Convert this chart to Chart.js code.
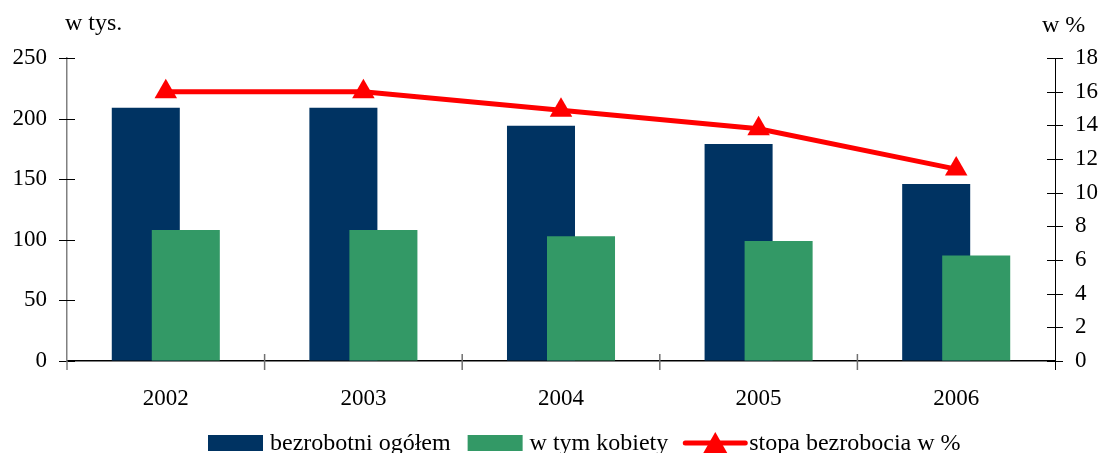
<!DOCTYPE html>
<html><head><meta charset="utf-8">
<script src="https://cdn.jsdelivr.net/npm/chart.js@4"></script>
<style>html,body{margin:0;padding:0;background:#fff}</style>
</head><body>
<canvas id="c" width="1103" height="453"></canvas>
<script>
const categories = ['2002', '2003', '2004', '2005', '2006'];
const totalUnemployed = [209, 209, 194, 179, 146];
const womenUnemployed = [108, 108, 103, 99, 87];
const unemploymentRate = [16.0, 16.0, 14.9, 13.8, 11.4];
const seriesLabels = ['bezrobotni ogółem', 'w tym kobiety', 'stopa bezrobocia w %'];
const leftTitle = 'w tys.';
const rightTitle = 'w %';

const NAVY = '#003362', GREEN = '#339966', RED = '#FF0000';
const FONT = "'Liberation Serif', 'Times New Roman', serif";
Chart.defaults.font.family = FONT;
Chart.defaults.color = '#000';

const drawOrderPlugin = {
  id: 'drawOrder',
  beforeDatasetDraw(chart, args) {
    // navy (index 0) must sit left of green but be painted beneath it
    if (args.index === 0) return false;
    if (args.index === 1) {
      const m = chart.getDatasetMeta(0);
      if (m.visible) m.controller.draw();
    }
  }
};

const decorPlugin = {
  id: 'decor',
  afterDraw(chart) {
    const ctx = chart.ctx;
    const {x, y, y1} = chart.scales;
    ctx.save();
    ctx.strokeStyle = '#000'; ctx.lineWidth = 1;
    y.ticks.forEach((t, i) => {
      const py = Math.round(y.getPixelForTick(i)) + 0.5;
      ctx.beginPath(); ctx.moveTo(y.right - 8, py); ctx.lineTo(y.right + 8, py); ctx.stroke();
    });
    y1.ticks.forEach((t, i) => {
      const py = Math.round(y1.getPixelForTick(i)) + 0.5;
      ctx.beginPath(); ctx.moveTo(y1.left - 8, py); ctx.lineTo(y1.left + 8, py); ctx.stroke();
    });
    // axis lines extending slightly below the x axis
    ctx.strokeStyle = '#808080'; ctx.lineWidth = 1.5;
    ctx.beginPath(); ctx.moveTo(y.right, x.top); ctx.lineTo(y.right, x.top + 9); ctx.stroke();
    ctx.strokeStyle = '#000'; ctx.lineWidth = 1;
    ctx.beginPath(); ctx.moveTo(y1.left + 0.5, x.top); ctx.lineTo(y1.left + 0.5, x.top + 9); ctx.stroke();
    // x boundary ticks
    ctx.strokeStyle = '#707070'; ctx.lineWidth = 1.5;
    for (let i = 1; i < categories.length; i++) {
      const px = (x.getPixelForValue(i - 1) + x.getPixelForValue(i)) / 2;
      ctx.beginPath(); ctx.moveTo(px, x.top - 7); ctx.lineTo(px, x.top + 9); ctx.stroke();
    }
    // axis titles
    ctx.fillStyle = '#000';
    ctx.font = '24px ' + FONT;
    ctx.textBaseline = 'alphabetic';
    ctx.textAlign = 'left';
    ctx.fillText(leftTitle, 65, 30);
    ctx.fillText(rightTitle, 1042, 32);
    // legend
    let lx = 208;
    const by = 435, bh = 16, bw = 55, base = 450;
    const kinds = [{c: NAVY, t: 'box'}, {c: GREEN, t: 'box'}, {c: RED, t: 'line'}];
    kinds.forEach((k, i) => {
      if (k.t === 'box') {
        ctx.fillStyle = k.c; ctx.fillRect(lx, by, bw, bh);
        lx += bw + 7;
      } else {
        ctx.strokeStyle = k.c; ctx.lineWidth = 5; ctx.lineCap = 'round';
        ctx.beginPath(); ctx.moveTo(lx, 443); ctx.lineTo(lx + 60, 443); ctx.stroke();
        ctx.fillStyle = k.c;
        const cx = lx + 30;
        ctx.beginPath(); ctx.moveTo(cx, 432); ctx.lineTo(cx + 12, 453); ctx.lineTo(cx - 12, 453); ctx.closePath(); ctx.fill();
        lx += 64;
      }
      ctx.fillStyle = '#000';
      ctx.fillText(seriesLabels[i], lx, base);
      lx += ctx.measureText(seriesLabels[i]).width + 17;
    });
    ctx.restore();
  }
};

new Chart(document.getElementById('c'), {
  type: 'bar',
  data: {
    labels: categories,
    datasets: [
      { label: seriesLabels[0], data: totalUnemployed, backgroundColor: NAVY, yAxisID: 'y', order: 1,
        categoryPercentage: 0.405, barPercentage: 1.7 },
      { label: seriesLabels[1], data: womenUnemployed, backgroundColor: GREEN, yAxisID: 'y', order: 2,
        categoryPercentage: 0.405, barPercentage: 1.7 },
      { type: 'line', label: seriesLabels[2], data: unemploymentRate, yAxisID: 'y1', order: 0,
        borderColor: RED, backgroundColor: RED, borderWidth: 5, tension: 0,
        pointStyle: 'triangle', pointRadius: 13, pointBorderWidth: 0, pointBackgroundColor: RED }
    ]
  },
  options: {
    responsive: false,
    animation: false,
    devicePixelRatio: 1,
    layout: { padding: { top: 58, left: 0, right: 0, bottom: 0 } },
    plugins: { legend: { display: false }, tooltip: { enabled: false } },
    scales: {
      x: {
        offset: true,
        grid: { drawOnChartArea: false, drawTicks: false },
        border: { color: '#000', width: 1.5 },
        ticks: { padding: 24, font: { size: 23 }, color: '#000' },
        afterFit: s => { s.height = 92; }
      },
      y: {
        position: 'left', min: 0, max: 250,
        grid: { drawOnChartArea: false, drawTicks: false },
        border: { color: '#808080', width: 1.5 },
        ticks: { stepSize: 50, padding: 20, font: { size: 23 }, color: '#000' },
        afterFit: s => { s.width = 67; }
      },
      y1: {
        position: 'right', min: 0, max: 18,
        grid: { drawOnChartArea: false, drawTicks: false },
        border: { color: '#000', width: 1 },
        ticks: { stepSize: 2, padding: 20, font: { size: 23 }, color: '#000' },
        afterFit: s => { s.width = 48; }
      }
    }
  },
  plugins: [drawOrderPlugin, decorPlugin]
});
</script>
</body></html>
